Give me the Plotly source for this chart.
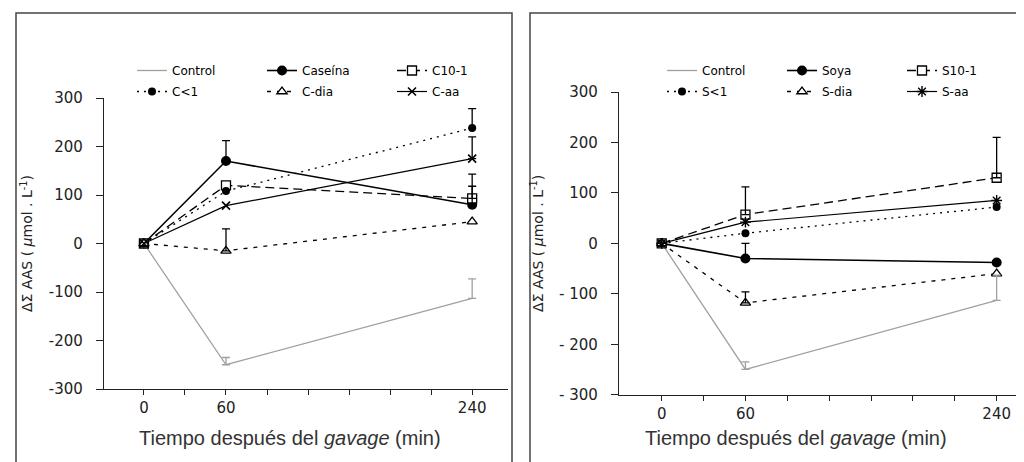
import plotly.graph_objects as go

# ---------------- data ----------------
time_min = [0, 60, 240]
x_tick_vals = [0, 30, 60, 90, 120, 150, 180, 210, 240]
x_tick_text = ["0", "", "60", "", "", "", "", "", "240"]
y_tick_vals = [-300, -200, -100, 0, 100, 200, 300]
y_tick_text_left = ["-300", "-200", "-100", "0", "100", "200", "300"]
y_tick_text_right = ["- 300", "- 200", "- 100", "0", "100", "200", "300"]

# Left panel: casein diets
left_names = ["Control", "Caseína", "C10-1", "C&lt;1", "C-dia", "C-aa"]
left_control = [0, -250, -113]
left_caseina = [0, 170, 80]
left_c10 = [0, 120, 93]
left_clt1 = [0, 108, 238]
left_cdia = [0, -15, 45]
left_caa = [0, 78, 175]
# upper error (SEM), None = not shown
left_control_err = [None, 15, 40]
left_caseina_err = [None, 42, 38]
left_c10_err = [None, None, 50]
left_clt1_err = [None, None, 40]
left_cdia_err = [None, 45, None]
left_caa_err = [None, None, 45]

# Right panel: soy diets
right_names = ["Control", "Soya", "S10-1", "S&lt;1", "S-dia", "S-aa"]
right_control = [0, -250, -113]
right_soya = [0, -30, -38]
right_s10 = [0, 57, 130]
right_slt1 = [0, 20, 72]
right_sdia = [0, -118, -60]
right_saa = [0, 42, 85]
right_control_err = [None, 15, 50]
right_soya_err = [None, 30, None]
right_s10_err = [None, 55, 80]
right_slt1_err = [None, None, None]
right_sdia_err = [None, 22, None]
right_saa_err = [None, None, None]

x_title = "Tiempo después del <i>gavage</i> (min)"
y_title = "ΔΣ AAS ( <i>μ</i>mol . L<sup>-1</sup>)"

# ---------------- styles ----------------
styles = [
    dict(line=dict(color="#a0a0a0", width=1.3, dash="solid"), mode="lines",
         marker=dict(size=1, color="#a0a0a0"), errcolor="#a0a0a0"),
    dict(line=dict(color="black", width=1.6, dash="solid"), mode="lines+markers",
         marker=dict(symbol="circle", size=10, color="black"), errcolor="black"),
    dict(line=dict(color="black", width=1.3, dash="9px,5px"), mode="lines+markers",
         marker=dict(symbol="square", size=9, color="white", line=dict(color="black", width=1.3)),
         errcolor="black"),
    dict(line=dict(color="black", width=1.3, dash="2px,5px"), mode="lines+markers",
         marker=dict(symbol="circle", size=8, color="black"), errcolor="black"),
    dict(line=dict(color="black", width=1.3, dash="4px,6px"), mode="lines+markers",
         marker=dict(symbol="triangle-up", size=9, color="white", line=dict(color="black", width=1.3)),
         errcolor="black"),
]
aa_left = dict(line=dict(color="black", width=1.2, dash="solid"), mode="lines+markers",
               marker=dict(symbol="x-thin", size=8, color="black", line=dict(color="black", width=1.6)),
               errcolor="black")
aa_right = dict(line=dict(color="black", width=1.2, dash="solid"), mode="lines+markers",
                marker=dict(symbol="asterisk", size=9, color="black", line=dict(color="black", width=1.4)),
                errcolor="black")

fig = go.Figure()


def add_panel(names, series, errs, aa_style, xa, ya, legends):
    st = styles + [aa_style]
    for i, (name, vals, s) in enumerate(zip(names, series, st)):
        fig.add_trace(go.Scatter(
            x=time_min, y=vals, name=name, mode=s["mode"], line=s["line"],
            marker=s["marker"], xaxis=xa, yaxis=ya, legend=legends[i // 3], cliponaxis=False,
        ))
    # error bars (upper only)
    for name, vals, err, s in zip(names, series, errs, st):
        ex = [t for t, e in zip(time_min, err) if e is not None]
        ey = [v for v, e in zip(vals, err) if e is not None]
        ee = [e for e in err if e is not None]
        if not ex:
            continue
        fig.add_trace(go.Scatter(
            x=ex, y=ey, mode="markers", showlegend=False, hoverinfo="skip",
            marker=dict(size=1, color="rgba(0,0,0,0)"),
            error_y=dict(type="data", symmetric=False, array=ee, arrayminus=[0] * len(ee),
                         color=s["errcolor"], thickness=1.3, width=4),
            xaxis=xa, yaxis=ya, cliponaxis=False,
        ))


add_panel(left_names,
          [left_control, left_caseina, left_c10, left_clt1, left_cdia, left_caa],
          [left_control_err, left_caseina_err, left_c10_err, left_clt1_err, left_cdia_err, left_caa_err],
          aa_left, "x", "y", ["legend", "legend3"])
add_panel(right_names,
          [right_control, right_soya, right_s10, right_slt1, right_sdia, right_saa],
          [right_control_err, right_soya_err, right_s10_err, right_slt1_err, right_sdia_err, right_saa_err],
          aa_right, "x2", "y2", ["legend2", "legend4"])

W, H = 1024, 462
tick_font = dict(family="DejaVu Sans", size=15, color="#222")
ytitle = dict(text=y_title, font=dict(family="DejaVu Sans", size=14, color="#222"), standoff=12)

common_x = dict(tickmode="array", tickvals=x_tick_vals, ticktext=x_tick_text,
                ticks="outside", ticklen=5, tickwidth=1, tickcolor="#222",
                showline=True, linecolor="#222", linewidth=1.3, showgrid=False,
                zeroline=False, tickfont=tick_font, ticklabelstandoff=0)
common_y = dict(tickmode="array", tickvals=y_tick_vals, range=[-300, 300],
                ticks="outside", ticklen=7, tickwidth=1, tickcolor="#222",
                showline=True, linecolor="#222", linewidth=1.3, showgrid=False,
                zeroline=False, tickfont=tick_font, ticklabelstandoff=10, title=ytitle)


def leg(xpx, ytop, ew):
    return dict(orientation="h", x=xpx / W, xanchor="left", y=1 - ytop / H, yanchor="top",
                entrywidth=ew, entrywidthmode="pixels", bgcolor="rgba(0,0,0,0)",
                font=dict(family="DejaVu Sans", size=12, color="black"), traceorder="normal",
                itemwidth=30)


fig.update_layout(
    width=W, height=H, margin=dict(l=0, r=0, t=0, b=0, autoexpand=False),
    paper_bgcolor="white", plot_bgcolor="white", showlegend=True,
    xaxis=dict(common_x, domain=[96 / W, 500 / W], range=[-29.2, 266.2], anchor="y"),
    yaxis=dict(common_y, domain=[1 - 381 / H, 1 - 90 / H], ticktext=y_tick_text_left, anchor="x"),
    xaxis2=dict(common_x, domain=[611 / W, 1016 / W], range=[-30.6, 259.6], anchor="y2"),
    yaxis2=dict(common_y, domain=[1 - 386.7 / H, 1 - 84 / H], ticktext=y_tick_text_right, anchor="x2"),
    legend=leg(124, 48, 85),
    legend3=leg(124, 69, 85),
    legend2=leg(654, 48, 75),
    legend4=leg(654, 69, 75),
    annotations=[
        dict(text=x_title, xref="paper", yref="paper", x=282 / W, y=1 - 430 / H,
             xanchor="center", yanchor="middle", showarrow=False,
             font=dict(family="Liberation Sans", size=20, color="#333")),
        dict(text=x_title, xref="paper", yref="paper", x=788 / W, y=1 - 430 / H,
             xanchor="center", yanchor="middle", showarrow=False,
             font=dict(family="Liberation Sans", size=20, color="#333")),
    ],
    shapes=[
        dict(type="rect", xref="paper", yref="paper", x0=8 / W, x1=504 / W,
             y0=1 - 460 / H, y1=1 - 5 / H, line=dict(color="#444", width=1.5)),
        dict(type="rect", xref="paper", yref="paper", x0=522 / W, x1=1020 / W,
             y0=1 - 460 / H, y1=1 - 5 / H, line=dict(color="#444", width=1.5)),
    ],
)

fig.write_html("out.html")
